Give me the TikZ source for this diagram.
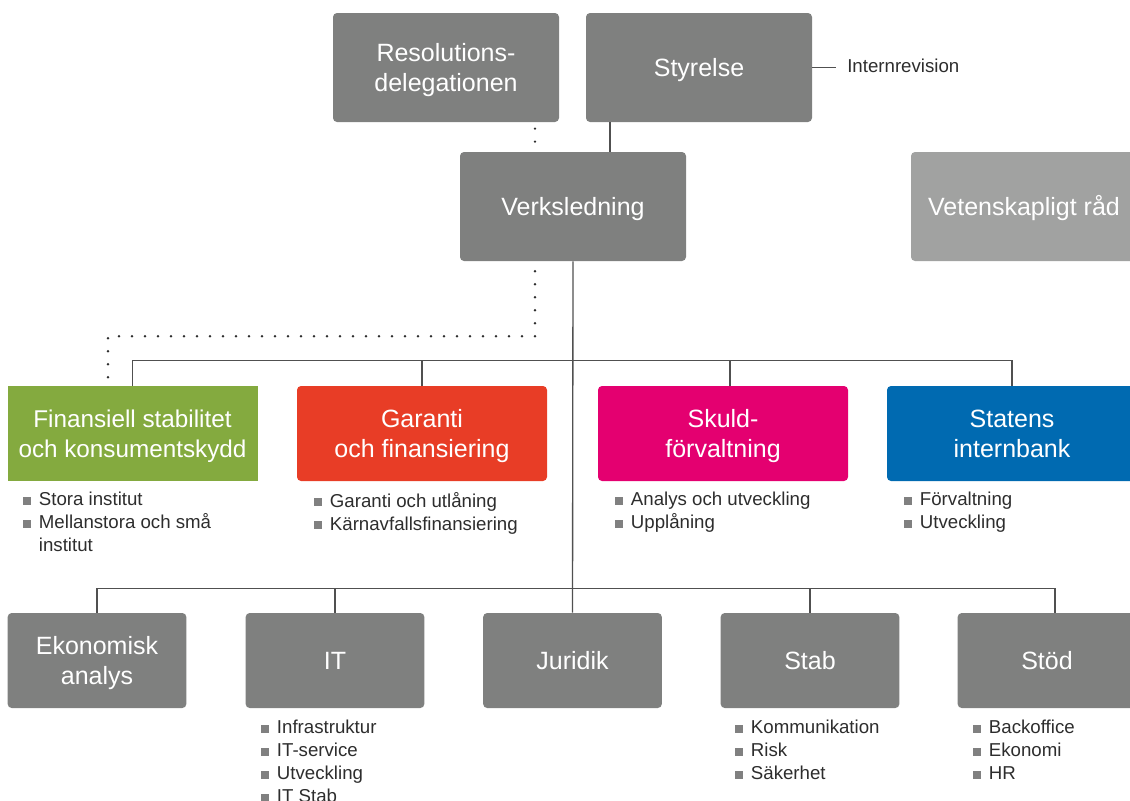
\documentclass[tikz,border=0pt]{standalone}
\usepackage{fontspec}
\setmainfont{Liberation Sans}
\usetikzlibrary{positioning}

\definecolor{boxgrey}{RGB}{127,128,127}
\definecolor{palegrey}{RGB}{161,162,161}
\definecolor{bulletgrey}{RGB}{128,128,128}
\definecolor{linegrey}{RGB}{80,80,80}
\definecolor{textgrey}{RGB}{45,45,45}
\definecolor{fsgreen}{RGB}{132,170,63}
\definecolor{garred}{RGB}{232,61,38}
\definecolor{skuldmag}{RGB}{228,0,112}
\definecolor{sibblue}{RGB}{0,106,177}

\newcommand{\blt}{{\color{bulletgrey}\rule[0.75pt]{6pt}{6pt}}\hspace{5.75pt}}
\newcommand{\bltin}{\hspace*{11.75pt}}
\newcommand{\topstrut}{\rule{0pt}{17.5pt}}

\begin{document}
\begin{tikzpicture}[x=0.75pt,y=-0.75pt,
  box/.style={fill=boxgrey,text=white,rounded corners=3pt,align=center,
    font=\fontsize{18.75}{22.5}\selectfont,inner sep=0pt,
    execute at begin node={\rule{0pt}{17.5pt}},
    execute at end node={\rule[-4pt]{0pt}{4pt}}},
  bigbox/.style={box,minimum width=169.5pt,minimum height=81.75pt},
  divbox/.style={box,minimum width=187.5pt,minimum height=71.25pt},
  unitbox/.style={box,minimum width=134pt,minimum height=71.25pt},
  list/.style={anchor=north west,align=left,inner sep=0pt,text=textgrey,
    font=\fontsize{14}{17.25}\selectfont},
  conn/.style={draw=linegrey,line width=1pt},
  dots/.style={draw=textgrey,line width=2pt,line cap=round,
    dash pattern=on 0pt off 9.75pt}]

\useasboundingbox (0,0) rectangle (1130,800);
\clip (0,0) rectangle (1130,800);

% top level
\node[bigbox] (res) at (446,67.5) {\topstrut Resolutions-\\delegationen};
\node[bigbox] (styr) at (699,67.5) {Styrelse};
\node[bigbox] (verk) at (573,206.5) {Verksledning};
\node[bigbox,fill=palegrey] (vet) at (1024,206.5) {Vetenskapligt råd};
\node[anchor=west,inner sep=0pt,text=textgrey,
  font=\fontsize{14}{17}\selectfont] (intrev) at (847,66) {Internrevision};

\draw[conn,shorten >=8.25pt] (styr.east) -- (styr.east -| intrev.west);
\draw[conn] (styr.south) ++(-89,0) -- ++(0,30);
\draw[dots,dash phase=5pt] (res.south) ++(89,0) -- ++(0,30);

% divisions
\node[divbox,fill=fsgreen,rounded corners=0pt,
  font=\fontsize{18.2}{22.5}\selectfont] (fin) at (132.5,433.5)
  {\topstrut Finansiell stabilitet\\och konsumentskydd};
\node[divbox,fill=garred] (gar) at (422,433.5)
  {\topstrut Garanti\\och finansiering};
\node[divbox,fill=skuldmag] (skuld) at (723,433.5)
  {\topstrut Skuld-\\förvaltning};
\node[divbox,fill=sibblue] (sib) at (1012,433.5)
  {\topstrut Statens\\internbank};

\node[list] (finlist) at (23,492)
  {\blt Stora institut\\\blt Mellanstora och små\\\bltin institut};
\node[list] (garlist) at (314,492)
  {\blt Garanti och utlåning\\\blt Kärnavfallsfinansiering};
\node[list] (skuldlist) at (615,492)
  {\blt Analys och utveckling\\\blt Upplåning};
\node[list] (siblist) at (904,492)
  {\blt Förvaltning\\\blt Utveckling};

% units
\node[unitbox] (eko) at (97,660.5) {\topstrut Ekonomisk\\analys};
\node[unitbox] (it) at (335,660.5) {IT};
\node[unitbox] (jur) at (572.5,660.5) {Juridik};
\node[unitbox] (stab) at (810,660.5) {Stab};
\node[unitbox] (stod) at (1047,660.5) {Stöd};

\node[list] (itlist) at (261,720)
  {\blt Infrastruktur\\\blt IT-service\\\blt Utveckling\\\blt IT Stab};
\node[list] (stablist) at (735,720)
  {\blt Kommunikation\\\blt Risk\\\blt Säkerhet};
\node[list] (stodlist) at (973,720)
  {\blt Backoffice\\\blt Ekonomi\\\blt HR};

% lines
\draw[conn] (verk.south) -- (jur.north);
\draw[conn] (fin.north) -- ++(0,-25) -| (sib.north);
\draw[conn] (gar.north) -- ++(0,-25);
\draw[conn] (skuld.north) ++(7,0) -- ++(0,-25);
\draw[conn] (eko.north) -- ++(0,-24.5) -| ([xshift=6pt]stod.north);
\draw[conn] (it.north) -- ++(0,-24.5);
\draw[conn] (stab.north) -- ++(0,-24.5);

\draw[dots,dash phase=2.25pt] (verk.south) ++(-38,0) -- ++(0,75)
  -| (fin.north -| 108,0);

\end{tikzpicture}
\end{document}
